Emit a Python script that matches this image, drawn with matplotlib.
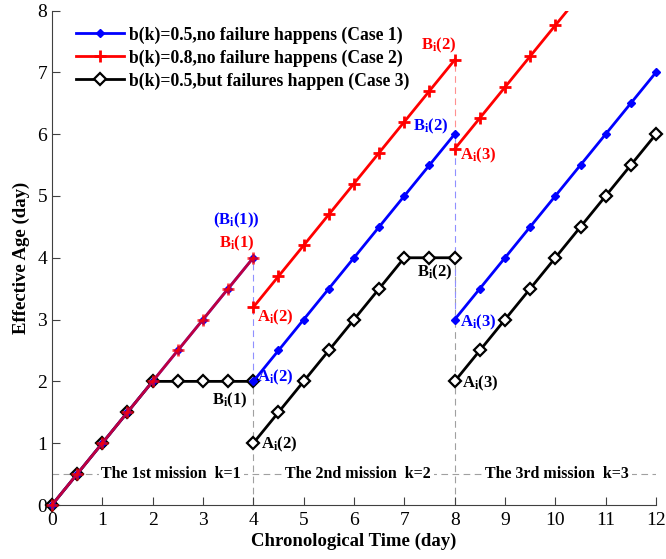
import matplotlib
matplotlib.use("Agg")
import matplotlib.pyplot as plt
import numpy as np

plt.rcParams['font.family'] = ['Liberation Serif', 'DejaVu Serif']
plt.rcParams['mathtext.fontset'] = 'custom'
plt.rcParams['mathtext.rm'] = 'Liberation Serif:bold'
plt.rcParams['mathtext.it'] = 'Liberation Serif:bold'
plt.rcParams['mathtext.bf'] = 'Liberation Serif:bold'

# ---- data ----
# Case 1: b(k)=0.5, no failure
case1_t = [[0, 0.5, 1, 1.5, 2, 2.5, 3, 3.5, 4],
           [4, 4.5, 5, 5.5, 6, 6.5, 7, 7.5, 8],
           [8, 8.5, 9, 9.5, 10, 10.5, 11, 11.5, 12]]
case1_age = [[0, 0.5, 1, 1.5, 2, 2.5, 3, 3.5, 4],
             [2, 2.5, 3, 3.5, 4, 4.5, 5, 5.5, 6],
             [3, 3.5, 4, 4.5, 5, 5.5, 6, 6.5, 7]]
# Case 2: b(k)=0.8, no failure
case2_t = case1_t
case2_age = [[0, 0.5, 1, 1.5, 2, 2.5, 3, 3.5, 4],
             [3.2, 3.7, 4.2, 4.7, 5.2, 5.7, 6.2, 6.7, 7.2],
             [5.76, 6.26, 6.76, 7.26, 7.76, 8.26, 8.76, 9.26, 9.76]]
# Case 3: b(k)=0.5, failures happen
case3_t = case1_t
case3_age = [[0, 0.5, 1, 1.5, 2, 2, 2, 2, 2],
             [1, 1.5, 2, 2.5, 3, 3.5, 4, 4, 4],
             [2, 2.5, 3, 3.5, 4, 4.5, 5, 5.5, 6]]

legend_labels = ['b(k)=0.5,no failure happens (Case 1)',
                 'b(k)=0.8,no failure happens (Case 2)',
                 'b(k)=0.5,but failures happen (Case 3)']
mission_labels = ['The 1st mission  k=1', 'The 2nd mission  k=2', 'The 3rd mission  k=3']
mission_x = [2.37, 6.08, 10.04]

fig = plt.figure(figsize=(6.66, 5.59), dpi=100)
ax = fig.add_axes([0.078, 0.0966, 0.907, 0.8846])

BLUE = '#0000ff'
RED = '#ff0000'

# vertical dashed lines at mission boundaries
ax.plot([4, 4], [0, 2], ls=(0, (6, 4)), color='#a0a0a0', lw=0.8, zorder=1)
ax.plot([4, 4], [2, 4], ls=(0, (6, 4)), color='#9090ff', lw=0.8, zorder=1)
ax.plot([8, 8], [0, 4], ls=(0, (6, 4)), color='#a0a0a0', lw=0.8, zorder=1)
ax.plot([8, 8], [3, 6], ls=(0, (6, 4)), color='#9090ff', lw=0.8, zorder=1)
ax.plot([8, 8], [5.76, 7.2], ls=(0, (6, 4)), color='#ff9090', lw=0.8, zorder=1)
# horizontal dashed line at mission labels
ax.plot([0, 12], [0.5, 0.5], ls=(0, (6, 4)), color='#a0a0a0', lw=0.8, zorder=1)

lines = []
for i, (t, a) in enumerate(zip(case3_t, case3_age)):
    l, = ax.plot(t, a, color='black', lw=2, marker='D', ms=6.5, mfc='white',
                 mec='black', mew=1.6, zorder=3, clip_on=False)
    if i == 0:
        lines.append(l)
for i, (t, a) in enumerate(zip(case1_t, case1_age)):
    l, = ax.plot(t, a, color=BLUE, lw=2, marker='D', ms=4.5, mfc=BLUE,
                 mec=BLUE, zorder=4, clip_on=False)
    if i == 0:
        lines.insert(0, l)
for i, (t, a) in enumerate(zip(case2_t, case2_age)):
    alpha = 0.75 if i == 0 else 1.0
    l, = ax.plot(t, a, color=RED, lw=2, marker='+', ms=8, mew=2,
                 zorder=5, alpha=alpha, clip_on=(i == 2))
    if i == 1:
        lines.insert(1, l)

ax.legend(lines, legend_labels, loc='upper left', bbox_to_anchor=(0.02, 0.993),
          frameon=False, prop={'weight': 'bold', 'size': 12.7},
          handlelength=2.7, handletextpad=0.3, labelspacing=0.32, borderaxespad=0.3)

for x, s in zip(mission_x, mission_labels):
    ax.text(x, 0.5, s, ha='center', va='center', fontsize=11.5, fontweight='bold',
            bbox=dict(facecolor='white', edgecolor='none', pad=2), zorder=2)

fs = 12
def lab(x, y, s, c, ha='left', va='center'):
    ax.text(x, y, s, color=c, fontsize=fs, fontweight='bold', ha=ha, va=va, zorder=6)

lab(3.67, 4.6, r'(B$_\mathrm{i}$(1))', BLUE, ha='center')
lab(3.67, 4.23, r'B$_\mathrm{i}$(1)', RED, ha='center')
lab(3.54, 1.7, r'B$_\mathrm{i}$(1)', 'black', ha='center')
lab(4.07, 2.06, r'A$_\mathrm{i}$(2)', BLUE)
lab(4.07, 3.03, r'A$_\mathrm{i}$(2)', RED)
lab(4.15, 0.98, r'A$_\mathrm{i}$(2)', 'black')
lab(7.69, 7.43, r'B$_\mathrm{i}$(2)', RED, ha='center')
lab(7.53, 6.12, r'B$_\mathrm{i}$(2)', BLUE, ha='center')
lab(7.6, 3.77, r'B$_\mathrm{i}$(2)', 'black', ha='center')
lab(8.11, 5.66, r'A$_\mathrm{i}$(3)', RED)
lab(8.11, 2.96, r'A$_\mathrm{i}$(3)', BLUE)
lab(8.15, 1.97, r'A$_\mathrm{i}$(3)', 'black')

ax.set_xlim(0, 12)
ax.set_ylim(0, 8)
ax.set_xticks(range(0, 13))
ax.set_yticks(range(0, 9))
ax.spines['top'].set_visible(False)
ax.spines['right'].set_visible(False)
for sp in ('left', 'bottom'):
    ax.spines[sp].set_color('#404040')
ax.tick_params(direction='in', length=6, labelsize=14, color='#404040')
ax.tick_params(axis='x', pad=5)
ax.tick_params(axis='y', pad=3.5)
ax.set_xlabel('Chronological Time (day)', fontsize=13.5, fontweight='bold', labelpad=3)
ax.set_ylabel('Effective Age (day)', fontsize=13.5, fontweight='bold', labelpad=5)

fig.savefig('out.png', dpi=100)
